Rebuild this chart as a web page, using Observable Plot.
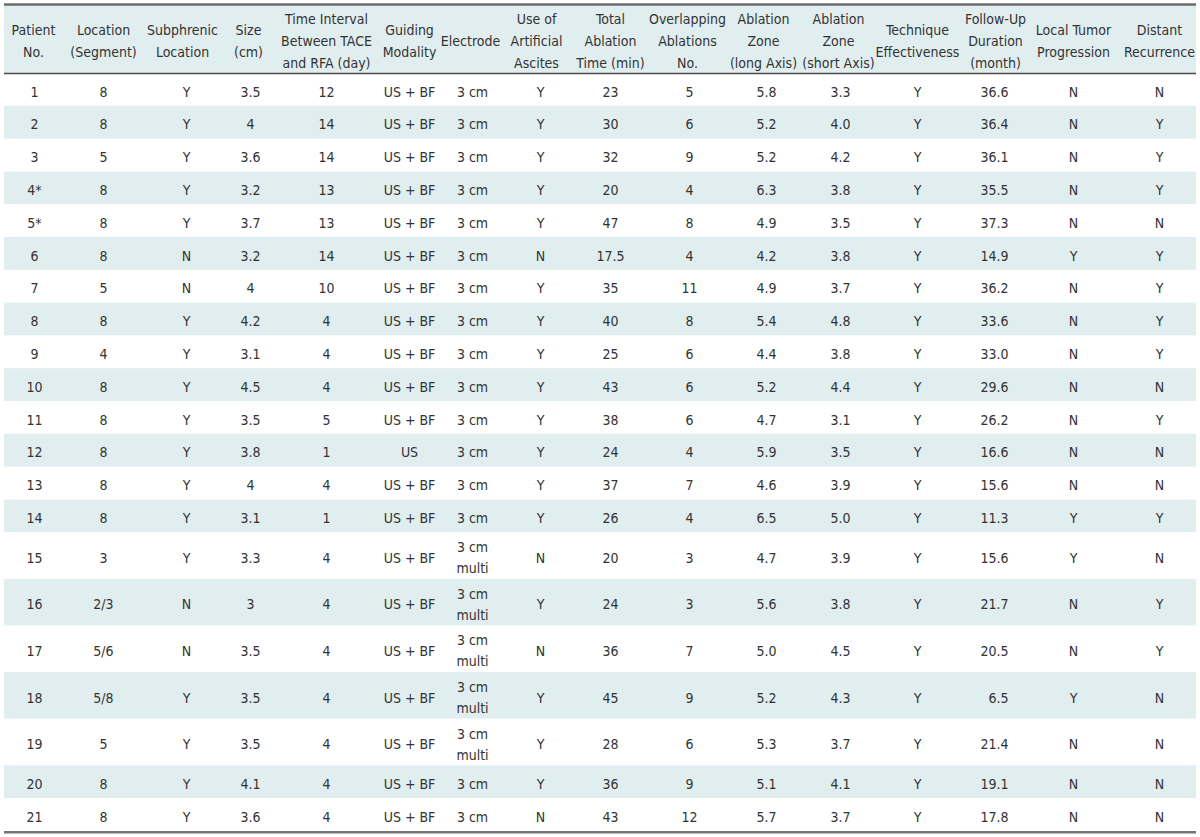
<!DOCTYPE html>
<html>
<head>
<meta charset="utf-8">
<script src="https://cdn.jsdelivr.net/npm/d3@7"></script>
<script src="https://cdn.jsdelivr.net/npm/@observablehq/plot@0.6"></script>
<style>
  html, body { margin: 0; padding: 0; background: #fff; }
  #chart svg { display: block; }
</style>
</head>
<body>
<div id="chart"></div>
<script>
const headers = [
  "Patient\nNo.", "Location\n(Segment)", "Subphrenic\nLocation", "Size\n(cm)",
  "Time Interval\nBetween TACE\nand RFA (day)", "Guiding\nModality", "Electrode",
  "Use of\nArtificial\nAscites", "Total\nAblation\nTime (min)", "Overlapping\nAblations\nNo.",
  "Ablation\nZone\n(long Axis)", "Ablation\nZone\n(short Axis)", "Technique\nEffectiveness",
  "Follow-Up\nDuration\n(month)", "Local Tumor\nProgression", "Distant\nRecurrence"
];
const patientNo = ["1","2","3","4*","5*","6","7","8","9","10","11","12","13","14","15","16","17","18","19","20","21"];
const locationSegment = ["8","8","5","8","8","8","5","8","4","8","8","8","8","8","3","2/3","5/6","5/8","5","8","8"];
const subphrenic = ["Y","Y","Y","Y","Y","N","N","Y","Y","Y","Y","Y","Y","Y","Y","N","N","Y","Y","Y","Y"];
const sizeCm = ["3.5","4","3.6","3.2","3.7","3.2","4","4.2","3.1","4.5","3.5","3.8","4","3.1","3.3","3","3.5","3.5","3.5","4.1","3.6"];
const intervalDay = ["12","14","14","13","13","14","10","4","4","4","5","1","4","1","4","4","4","4","4","4","4"];
const guiding = ["US + BF","US + BF","US + BF","US + BF","US + BF","US + BF","US + BF","US + BF","US + BF","US + BF","US + BF","US","US + BF","US + BF","US + BF","US + BF","US + BF","US + BF","US + BF","US + BF","US + BF"];
const electrode = ["3 cm","3 cm","3 cm","3 cm","3 cm","3 cm","3 cm","3 cm","3 cm","3 cm","3 cm","3 cm","3 cm","3 cm","3 cm\nmulti","3 cm\nmulti","3 cm\nmulti","3 cm\nmulti","3 cm\nmulti","3 cm","3 cm"];
const ascites = ["Y","Y","Y","Y","Y","N","Y","Y","Y","Y","Y","Y","Y","Y","N","Y","N","Y","Y","Y","N"];
const totalTime = ["23","30","32","20","47","17.5","35","40","25","43","38","24","37","26","20","24","36","45","28","36","43"];
const overlapping = ["5","6","9","4","8","4","11","8","6","6","6","4","7","4","3","3","7","9","6","9","12"];
const longAxis = ["5.8","5.2","5.2","6.3","4.9","4.2","4.9","5.4","4.4","5.2","4.7","5.9","4.6","6.5","4.7","5.6","5.0","5.2","5.3","5.1","5.7"];
const shortAxis = ["3.3","4.0","4.2","3.8","3.5","3.8","3.7","4.8","3.8","4.4","3.1","3.5","3.9","5.0","3.9","3.8","4.5","4.3","3.7","4.1","3.7"];
const technique = ["Y","Y","Y","Y","Y","Y","Y","Y","Y","Y","Y","Y","Y","Y","Y","Y","Y","Y","Y","Y","Y"];
const followUp = ["36.6","36.4","36.1","35.5","37.3","14.9","36.2","33.6","33.0","29.6","26.2","16.6","15.6","11.3","15.6","21.7","20.5","6.5","21.4","19.1","17.8"];
const localProgression = ["N","N","N","N","N","Y","N","N","N","N","N","N","N","Y","Y","N","N","Y","N","N","N"];
const distantRecurrence = ["N","Y","Y","Y","N","Y","Y","Y","Y","N","Y","N","N","Y","N","Y","Y","N","N","N","N"];

const columns = [patientNo, locationSegment, subphrenic, sizeCm, intervalDay, guiding, electrode, ascites,
  totalTime, overlapping, longAxis, shortAxis, technique, followUp, localProgression, distantRecurrence];

// ---- Layout (page geometry, kept apart from the data) ----
const W = 1200, H = 837;
const tableLeft = 4, tableRight = 1196;
const topLine = 4, headerBottom = 73;
const singleRowH = 32.8, doubleRowH = 46.6;
const headerX = [33, 103, 182, 248, 326, 409, 470, 536, 610, 687, 763, 838, 917, 995, 1073, 1159];
const cellX   = [34, 103, 186, 250, 326, 409, 472, 540, 610, 689, 766, 840, 917, 1008, 1073, 1159];
const cellAnchor = headerX.map((_, i) => i === 13 ? "end" : "middle");
const FONT = "'DejaVu Sans Condensed', 'DejaVu Sans', sans-serif";
const FS = 14;
const TEXT = "#333";
const STRIPE = "#e1eef0";

// row geometry
const rows = [];
let yTop = headerBottom;
patientNo.forEach((p, i) => {
  const h = electrode[i].includes("\n") ? doubleRowH : singleRowH;
  rows.push({i, y1: yTop, y2: yTop + h, yc: yTop + h / 2});
  yTop += h;
});
const tableBottom = yTop;

const headerCells = headers.map((t, j) => ({x: headerX[j], y: (topLine + headerBottom) / 2, t}));
const bodyCells = [];
rows.forEach(r => columns.forEach((col, j) => bodyCells.push({x: cellX[j], y: r.yc, t: col[r.i], anchor: cellAnchor[j]})));

const chart = Plot.plot({
  width: W, height: H,
  marginTop: 0, marginRight: 0, marginBottom: 0, marginLeft: 0,
  x: {domain: [0, W], range: [0, W], axis: null},
  y: {domain: [0, H], range: [0, H], axis: null},
  style: {fontFamily: FONT, background: "#fff", fontStretch: "condensed"},
  marks: [
    Plot.rect([{}], {x1: tableLeft, x2: tableRight, y1: topLine, y2: headerBottom, fill: STRIPE}),
    Plot.rect(rows.filter(r => r.i % 2 === 1), {x1: tableLeft, x2: tableRight, y1: "y1", y2: "y2", fill: STRIPE}),
    Plot.ruleY([topLine], {x1: tableLeft, x2: tableRight, stroke: "#6b6b6b", strokeWidth: 2.5}),
    Plot.ruleY([headerBottom], {x1: tableLeft, x2: tableRight, stroke: "#4a4a4a", strokeWidth: 1.5}),
    Plot.ruleY([tableBottom + 1], {x1: tableLeft, x2: tableRight, stroke: "#777", strokeWidth: 2.5}),
    Plot.text(headerCells, {x: "x", y: "y", text: "t", textAnchor: "middle", lineAnchor: "middle",
      lineHeight: 1.55, fontSize: FS, fill: TEXT}),
    Plot.text(bodyCells.filter(d => d.anchor === "middle"), {x: "x", y: "y", text: "t", textAnchor: "middle", lineAnchor: "middle",
      lineHeight: 1.5, fontSize: FS, fill: TEXT}),
    Plot.text(bodyCells.filter(d => d.anchor === "end"), {x: "x", y: "y", text: "t", textAnchor: "end", lineAnchor: "middle",
      lineHeight: 1.5, fontSize: FS, fill: TEXT})
  ]
});
document.getElementById("chart").appendChild(chart);
</script>
</body>
</html>
